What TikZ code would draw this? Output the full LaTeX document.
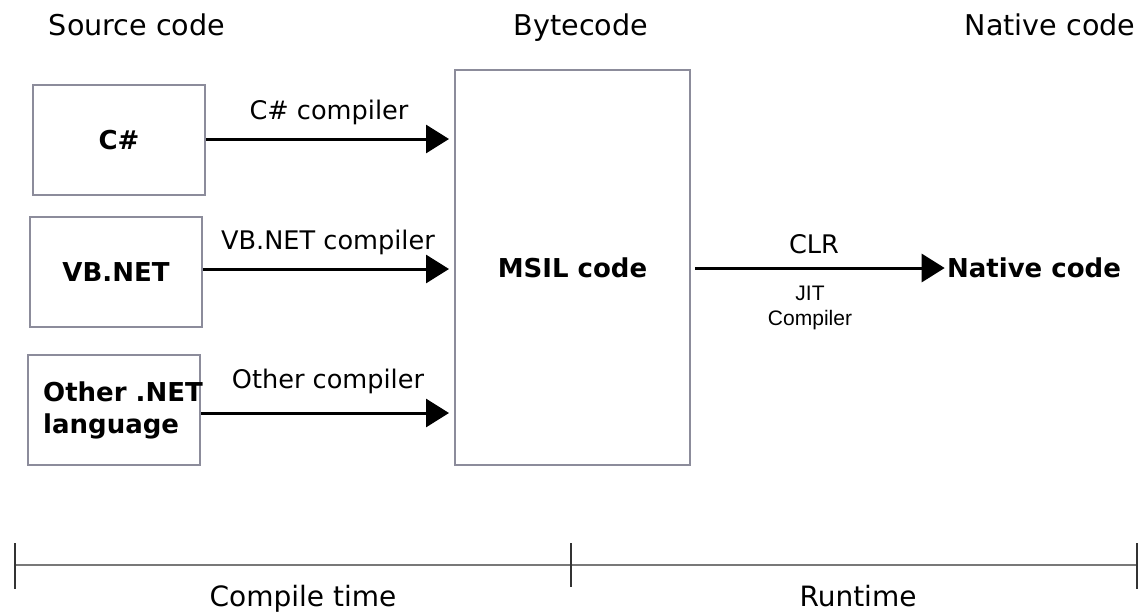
\documentclass[tikz,border=0pt]{standalone}
\usepackage{fontspec}
\setmainfont{DejaVu Sans}
\newfontfamily\jitfont{Liberation Sans}
\usetikzlibrary{arrows.meta,positioning}

\definecolor{boxgray}{RGB}{140,140,155}
\definecolor{linegray}{RGB}{120,120,120}

\tikzset{
	srcbox/.style={rectangle, draw=boxgray, line width=1pt, minimum width=86pt, minimum height=55pt, inner sep=1pt, font=\fontsize{13}{16}\selectfont\bfseries},
	codebox/.style={rectangle, draw=boxgray, line width=1pt, minimum width=117.5pt, minimum height=197.5pt, font=\fontsize{13}{16}\selectfont\bfseries},
	head/.style={font=\fontsize{14.3}{17}\selectfont, anchor=base},
	lbl/.style={font=\fontsize{12.8}{15}\selectfont, inner sep=1pt},
	jit/.style={font=\jitfont\fontsize{10.5}{12.5}\selectfont, align=center, inner sep=1pt},
	flow/.style={line width=1.5pt, -{Triangle[length=11.5pt, width=14pt]}},
	tick/.style={line width=0.6pt, draw=black!80}
}

\begin{document}
\begin{tikzpicture}[x=0.5pt, y=-0.5pt]
			\useasboundingbox (0,0) rectangle (1141,611);
			
			% Column headings
			\node[head] (srchead) at (137,35) {Source code};
			\node[head] (bytehead) at (581,35) {Bytecode};
			\node[head] (nativehead) at (1050,35) {Native code};
			
			% Source language boxes
			\node[srcbox] (cs) at (119,140) {C\#};
			\node[srcbox] (vb) at (116,272) {VB.NET};
			\node[srcbox] (other) at (114,410) {};
			\node[font=\fontsize{13}{16}\selectfont\bfseries, align=left, inner sep=0pt] (othertxt) at (123,410) {Other .NET\\language};
			
			% Bytecode box
			\node[codebox] (msil) at (572.5,267.5) {MSIL code};
			
			% Native code
			\node[font=\fontsize{13}{16}\selectfont\bfseries, inner sep=1pt] (native) at (1034,268) {Native code};
			
			% Compiler arrows
			\draw[flow, shorten >=2.5pt] (cs.east |- 0,139) -- (msil.west |- 0,139);
			\draw[flow, shorten >=2.5pt] (vb.east |- 0,269) -- (msil.west |- 0,269);
			\draw[flow, shorten >=2.5pt] (other.east |- 0,413) -- (msil.west |- 0,413);
			
			\node[lbl] (cslbl) at (329,112) {C\# compiler};
			\node[lbl] (vblbl) at (328,242) {VB.NET compiler};
			\node[lbl] (otherlbl) at (328,381) {Other compiler};
			
			% CLR arrow
			\draw[flow, shorten <=2pt] (msil.east |- native.west) -- (native.west);
			\node[lbl] (clr) at (814,244) {CLR};
			\node[jit] (jitlbl) at (810,308) {JIT\\Compiler};
			
			% Timeline
			\coordinate (tstart) at (15,565);
			\coordinate (tmid) at (571,565);
			\coordinate (tend) at (1137,565);
			\draw[linegray, line width=1pt] (tstart) -- (tend);
			\draw[tick] (tstart) ++(0,-22) -- ++(0,46);
			\draw[tick] (tmid) ++(0,-22) -- ++(0,44);
			\draw[tick] (tend) ++(0,-22) -- ++(0,46);
			
			\node[head, font=\fontsize{14}{17}\selectfont] (ctime) at (303,606) {Compile time};
			\node[head, font=\fontsize{14}{17}\selectfont] (rtime) at (858,606) {Runtime};
		\end{tikzpicture}
\end{document}
